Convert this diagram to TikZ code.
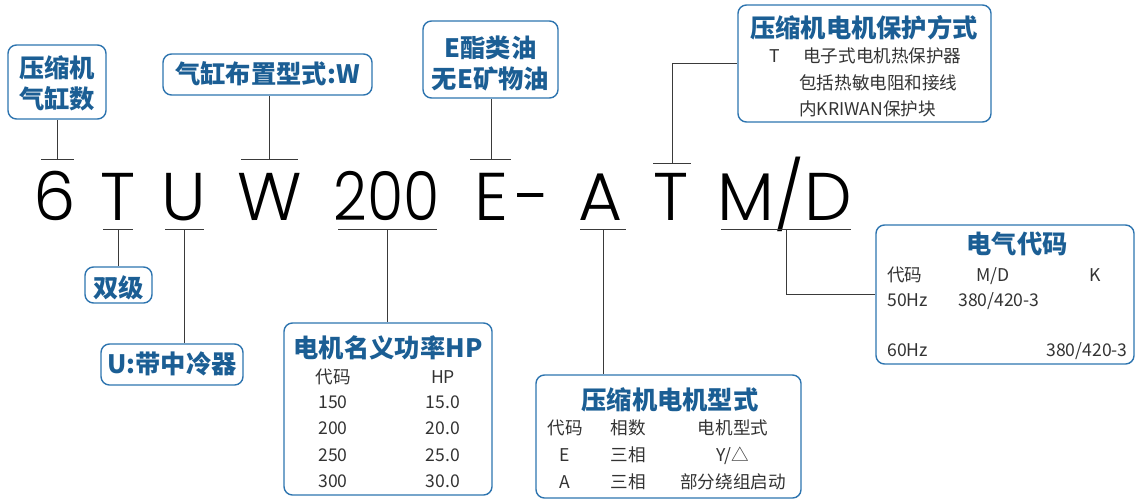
\documentclass[tikz,border=0pt]{standalone}
\usepackage{fontspec}
\setmainfont{Noto Sans CJK SC}
\IfFontExistsTF{Poppins Light}
  {\newfontfamily\codefont{Poppins Light}}
  {\newfontfamily\codefont{Poppins}}
\usetikzlibrary{fit}
\definecolor{cpblue}{HTML}{1B5E94}
\definecolor{cpframe}{HTML}{2D74AF}
\definecolor{cpgray}{HTML}{333333}
\definecolor{cpline}{HTML}{3A3A3A}

\begin{document}
\begin{tikzpicture}[
    x=0.025cm, y=-0.025cm,
    infobox/.style={
        rectangle,
        rounded corners=6pt,
        draw=cpframe,
        line width=1pt,
        inner sep=0pt
    },
    heading/.style={
        font=\fontsize{18}{22}\selectfont\bfseries,
        text=cpblue,
        anchor=base,
        inner sep=0pt
    },
    infotext/.style={
        font=\fontsize{12.5}{15}\selectfont,
        text=cpgray,
        anchor=base,
        inner sep=0pt
    },
    codechar/.style={
        font=\codefont\fontsize{48}{48}\selectfont,
        anchor=base,
        inner sep=0pt
    },
    bar/.style={
        draw=cpline,
        line width=0.7pt
    }
]
\useasboundingbox (0,0) rectangle (1136,500);

% Model code
\node[codechar] (c6) at (55,220) {6};
\node[codechar] (cT) at (118.5,220) {T};
\node[codechar] (cU) at (184,220) {U};
\node[codechar] (cW) at (270,220) {W};
\node[codechar, xscale=0.87, transform shape] (c200) at (386.5,220) {200};
\node[codechar] (cE) at (491,220) {E};
\node[codechar] (cdash) at (533,220) {-};
\node[codechar] (cA) at (600.5,220) {A};
\node[codechar] (cT2) at (671.5,220) {T};
\node[codechar] (cMD) at (785,220) {M/D};

% Boxes above
\node[infobox, fit={(8,45) (106,119)}] (cyl) {};
\node[heading] (cylA) at (57,77) {压缩机};
\node[heading] (cylB) at (57,108) {气缸数};
\node[infobox, fit={(163,54) (372,95)}] (layout) {};
\node[heading] (layoutT) at (267.5,83) {气缸布置型式:W};
\node[infobox, fit={(423,21) (558,98)}] (oil) {};
\node[heading] (oilA) at (490.5,57) {E酯类油};
\node[heading] (oilB) at (490.5,88) {无E矿物油};

\node[infobox, fit={(738,5) (991,122)}] (prot) {};
\node[heading] (protT) at (864,37) {压缩机电机保护方式};
\node[infotext] (prot1a) at (775,62) {T};
\node[infotext, anchor=base west] (prot1) at (803,62) {电子式电机热保护器};
\node[infotext, anchor=base west] (prot2) at (799,89) {包括热敏电阻和接线};
\node[infotext, anchor=base west] (prot3) at (799,115) {内KRIWAN保护块};

% Boxes below
\node[infobox, fit={(85,267) (152,303)}] (stage) {};
\node[heading] (stageT) at (118.5,297) {双级};
\node[infobox, fit={(101,344) (243,385)}] (cool) {};
\node[heading] (coolT) at (172,373) {U:带中冷器};

\node[infobox, fit={(284,323) (492,495)}] (power) {};
\node[heading] (powerT) at (388,357) {电机名义功率HP};
\node[infotext] (p0a) at (333,383) {代码};
\node[infotext] (p0b) at (443,383) {HP};
\node[infotext] (p1a) at (333,408) {150};
\node[infotext] (p1b) at (443,408) {15.0};
\node[infotext] (p2a) at (333,434) {200};
\node[infotext] (p2b) at (443,434) {20.0};
\node[infotext] (p3a) at (333,461) {250};
\node[infotext] (p3b) at (443,461) {25.0};
\node[infotext] (p4a) at (333,487) {300};
\node[infotext] (p4b) at (443,487) {30.0};

\node[infobox, fit={(536,375) (801,498)}] (motor) {};
\node[heading] (motorT) at (670,409) {压缩机电机型式};
\node[infotext] (m0a) at (565,434) {代码};
\node[infotext] (m0b) at (628,434) {相数};
\node[infotext] (m0c) at (733,434) {电机型式};
\node[infotext] (m1a) at (565,461) {E};
\node[infotext] (m1b) at (628,461) {三相};
\node[infotext] (m1c) at (733,461) {Y/△};
\node[infotext] (m2a) at (565,488) {A};
\node[infotext] (m2b) at (628,488) {三相};
\node[infotext] (m2c) at (733,488) {部分绕组启动};

\node[infobox, fit={(876,225) (1134,364)}] (elec) {};
\node[heading] (elecT) at (1017,253) {电气代码};
\node[infotext, anchor=base west] (e0a) at (887,281) {代码};
\node[infotext] (e0b) at (993,281) {M/D};
\node[infotext] (e0c) at (1095,281) {K};
\node[infotext, anchor=base west] (e1a) at (887,306) {50Hz};
\node[infotext, anchor=base west] (e1b) at (958,306) {380/420-3};
\node[infotext, anchor=base west] (e2a) at (887,356) {60Hz};
\node[infotext, anchor=base east] (e2c) at (1128,356) {380/420-3};

% Bars and leaders
\coordinate (s6) at (57,159);
\coordinate (sW) at (269,159);
\coordinate (sE) at (491,159);
\coordinate (sT2) at (672,163);
\coordinate (sT) at (118.5,229);
\coordinate (sU) at (184,229);
\coordinate (s200) at (387,229);
\coordinate (sA) at (603,229);
\coordinate (sMD) at (786,229);

\draw[bar] (41,159) -- (74,159);
\draw[bar] (241,159) -- (298,159);
\draw[bar] (470,159) -- (511,159);
\draw[bar] (653,163) -- (691,163);
\draw[bar] (103,229) -- (133,229);
\draw[bar] (165,229) -- (204,229);
\draw[bar] (338,229) -- (437,229);
\draw[bar] (580,229) -- (626,229);
\draw[bar] (721,229) -- (851,229);

\draw[bar] (s6) -- (s6 |- cyl.south);
\draw[bar] (sW) -- (sW |- layout.south);
\draw[bar] (sE) -- (sE |- oil.south);
\draw[bar] (sT2) |- (prot.west);
\draw[bar] (sT) -- (sT |- stage.north);
\draw[bar] (sU) -- (sU |- cool.north);
\draw[bar] (s200) -- (s200 |- power.north);
\draw[bar] (sA) -- (sA |- motor.north);
\draw[bar] (sMD) |- (elec.west);

\end{tikzpicture}
\end{document}
